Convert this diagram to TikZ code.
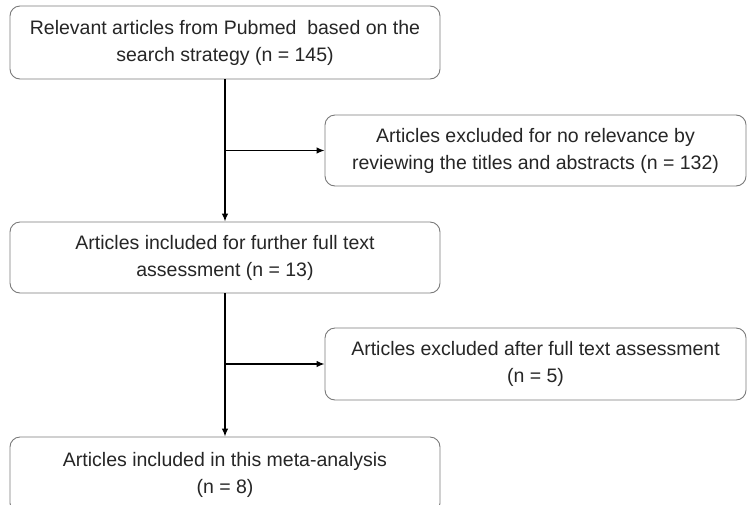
\documentclass[tikz,border=0pt]{standalone}
\usepackage{fontspec}
\setmainfont{Liberation Sans}
\usetikzlibrary{arrows.meta}
\definecolor{boxline}{HTML}{7A7A7A}
\definecolor{txt}{HTML}{262626}
\tikzset{
  flowbox/.style={draw=boxline, line width=0.9pt, rounded corners=10pt, inner sep=0pt,
    align=center, text=txt, font=\fontsize{19.5}{27}\selectfont, fill=white},
  conn/.style={draw=black, line width=1.3pt, -{Latex[length=8pt,width=6.5pt]}},
}
\begin{document}
\begin{tikzpicture}[x=1pt,y=-1pt]
\useasboundingbox (0,0) rectangle (751,504);
\clip (0,0) rectangle (751,504);
\node[flowbox, minimum width=430pt, minimum height=73pt] (b1) at (225,42.5)
  {Relevant articles from Pubmed\ \ based on the\\search strategy (n = 145)};
\node[flowbox, minimum width=421pt, minimum height=71pt] (b2) at (535.5,150.5)
  {Articles excluded for no relevance by\\reviewing the titles and abstracts (n = 132)};
\node[flowbox, minimum width=430pt, minimum height=71pt] (b3) at (225,257.5)
  {Articles included for further full text\\assessment (n = 13)};
\node[flowbox, minimum width=421pt, minimum height=72pt] (b4) at (535.5,364)
  {Articles excluded after full text assessment\\(n = 5)};
\node[flowbox, minimum width=430pt, minimum height=76pt] (b5) at (225,475)
  {Articles included in this meta-analysis\\(n = 8)};
\coordinate (j1) at (b1.south |- b2.west);
\coordinate (j2) at (b3.south |- b4.west);
\draw[conn] (b1.south) -- (b3.north);
\draw[conn] (j1) -- (b2.west);
\draw[conn] (b3.south) -- (b5.north);
\draw[conn] (j2) -- (b4.west);
\end{tikzpicture}
\end{document}
